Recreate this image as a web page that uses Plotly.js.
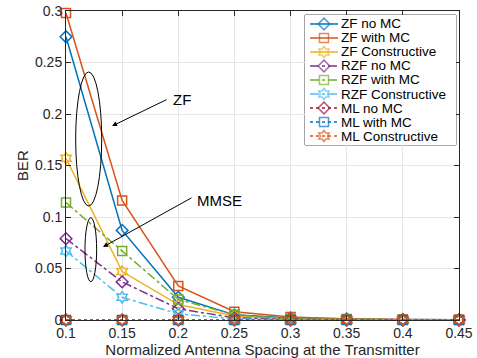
<!DOCTYPE html>
<html><head><meta charset="utf-8">
<script src="https://cdn.plot.ly/plotly-3.0.1.min.js"></script>
<style>html,body{margin:0;padding:0;background:#fff}#c{width:477px;height:358px}</style>
</head><body><div id="c"></div>
<script>
const spacing = [0.1, 0.15, 0.2, 0.25, 0.3, 0.35, 0.4, 0.45];
const zfNoMC = [0.275, 0.087, 0.022, 0.005, 0.002, 0.001, 0.0005, 0.0003];
const zfWithMC = [0.298, 0.116, 0.033, 0.008, 0.003, 0.001, 0.0005, 0.0003];
const zfConstr = [0.157, 0.047, 0.015, 0.004, 0.001, 0.0005, 0.0002, 0.0001];
const rzfNoMC = [0.079, 0.037, 0.011, 0.002, 0.001, 0.0003, 0.0001, 0.0001];
const rzfWithMC = [0.114, 0.067, 0.020, 0.005, 0.001, 0.0005, 0.0002, 0.0001];
const rzfConstr = [0.067, 0.022, 0.006, 0.001, 0.0003, 0.0001, 0.0001, 0];
const mlNoMC = [0, 0, 0, 0, 0, 0, 0, 0];
const mlWithMC = [0, 0, 0, 0, 0, 0, 0, 0];
const mlConstr = [0, 0, 0, 0, 0, 0, 0, 0];
const seriesNames = ['ZF no MC','ZF with MC','ZF Constructive','RZF no MC','RZF with MC','RZF Constructive','ML no MC','ML with MC','ML Constructive'];
const seriesData = [zfNoMC, zfWithMC, zfConstr, rzfNoMC, rzfWithMC, rzfConstr, mlNoMC, mlWithMC, mlConstr];
const colors = ['#0072BD','#D95319','#EDB120','#7E2F8E','#77AC30','#4DBEEE','#A2142F','#0072BD','#D95319'];
const dashes = ['solid','solid','solid','dashdot','dashdot','dashdot','dot','dot','dot'];
const symbols = ['diamond-open','square-open','hexagram-open','diamond-open','square-open','hexagram-open','diamond-open','square-open','hexagram-open'];
const xTicks = [0.1,0.15,0.2,0.25,0.3,0.35,0.4,0.45];
const xTickText = ['0.1','0.15','0.2','0.25','0.3','0.35','0.4','0.45'];
const yTicks = [0,0.05,0.1,0.15,0.2,0.25,0.3];
const yTickText = ['0','0.05','0.1','0.15','0.2','0.25','0.3'];

const FONT = 'Liberation Sans, Arial, sans-serif';
const traces = [];
seriesData.forEach((d,i)=>{
  traces.push({x: spacing, y: d, type:'scatter', mode:'lines+markers', name: seriesNames[i], showlegend:false, cliponaxis:false,
    line:{color:colors[i], width:1.5, dash:dashes[i]},
    marker:{symbol:symbols[i], size:9, color:colors[i], line:{color:colors[i], width:1.5}}});
});
// legend samples drawn on a hidden helper axis pair (units ~ pixels inside the legend box)
const annotations = [];
seriesNames.forEach((n,i)=>{
  const yy = 9 + i*14;
  traces.push({x:[5,19,33], y:[yy,yy,yy], xaxis:'x2', yaxis:'y2', type:'scatter', mode:'lines+markers', showlegend:false, hoverinfo:'skip', cliponaxis:false,
    line:{color:colors[i], width:1.5, dash:dashes[i]},
    marker:{symbol:symbols[i], size:[0,9,0], color:colors[i], line:{color:colors[i], width:1.5}}});
  annotations.push({x:35, y:yy, xref:'x2', yref:'y2', text:n, showarrow:false, xanchor:'left', yanchor:'middle', borderpad:0,
    font:{family:FONT, size:13.5, color:'#000'}});
});
// arrows + labels
annotations.push({x:0.141, y:0.1883, ax:0.1908, ay:0.2146, xref:'x', yref:'y', axref:'x', ayref:'y', text:'', showarrow:true, arrowhead:2, arrowsize:1, arrowwidth:1, arrowcolor:'#000'});
annotations.push({x:0.2033, y:0.2136, xref:'x', yref:'y', text:'ZF', showarrow:false, font:{family:FONT, size:15, color:'#000'}});
annotations.push({x:0.133, y:0.0709, ax:0.2131, ay:0.1194, xref:'x', yref:'y', axref:'x', ayref:'y', text:'', showarrow:true, arrowhead:2, arrowsize:1, arrowwidth:1, arrowcolor:'#000'});
annotations.push({x:0.2371, y:0.1165, xref:'x', yref:'y', text:'MMSE', showarrow:false, font:{family:FONT, size:15, color:'#000'}});

const shapes = [
  {type:'circle', xref:'x', yref:'y', x0:0.1086, x1:0.1318, y0:0.1107, y1:0.2408, line:{color:'#000', width:1}},
  {type:'circle', xref:'x', yref:'y', x0:0.1169, x1:0.1273, y0:0.0372, y1:0.0993, line:{color:'#000', width:1}},
  {type:'rect', xref:'paper', yref:'paper', x0:0.6081, x1:0.9924, y0:0.5663, y1:0.9871, layer:'between', fillcolor:'#fff', line:{color:'#262626', width:0.8}}
];

const axFont = {family:FONT, size:14, color:'#262626'};
const layout = {
  width:477, height:358, margin:{l:66, r:18, t:11, b:38},
  paper_bgcolor:'#fff', plot_bgcolor:'#fff', showlegend:false,
  xaxis:{range:[0.1,0.45], tickvals:xTicks, ticktext:xTickText, showgrid:true, gridcolor:'#e6e6e6', gridwidth:1,
    zeroline:false, showline:true, mirror:'ticks', linecolor:'#262626', linewidth:1, ticks:'inside', ticklen:5, tickcolor:'#262626',
    tickfont:axFont, title:{text:'Normalized Antenna Spacing at the Transmitter', font:{family:FONT, size:15, color:'#262626'}, standoff:1}},
  yaxis:{range:[0,0.3], tickvals:yTicks, ticktext:yTickText, showgrid:true, gridcolor:'#e6e6e6', gridwidth:1,
    zeroline:false, showline:true, mirror:'ticks', linecolor:'#262626', linewidth:1, ticks:'inside', ticklen:5, tickcolor:'#262626',
    tickfont:axFont, title:{text:'BER', font:{family:FONT, size:15, color:'#262626'}, standoff:2}},
  xaxis2:{domain:[0.6081,0.9924], range:[0,151], anchor:'y2', visible:false, fixedrange:true},
  yaxis2:{domain:[0.5663,0.9871], range:[130,0], anchor:'x2', visible:false, fixedrange:true},
  shapes:shapes, annotations:annotations
};
Plotly.newPlot('c', traces, layout, {staticPlot:true, displayModeBar:false});
</script></body></html>
